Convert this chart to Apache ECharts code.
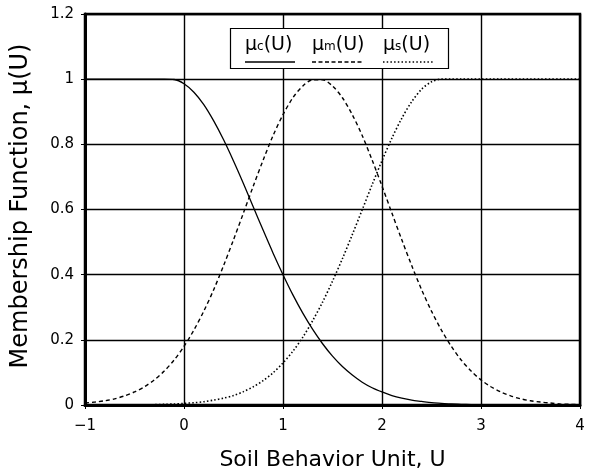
<!DOCTYPE html>
<html>
<head>
<meta charset="utf-8">
<script src="https://cdn.jsdelivr.net/npm/echarts@6/dist/echarts.min.js"></script>
<style>html,body{margin:0;padding:0;background:#fff}#c{width:603px;height:476px}</style>
</head>
<body>
<div id="c"></div>
<script>
const uValues = [-1,-0.9,-0.8,-0.7,-0.6,-0.5,-0.4,-0.3,-0.2,-0.1,0,0.1,0.2,0.3,0.4,0.5,0.6,0.7,0.8,0.9,1,1.1,1.2,1.3,1.4,1.5,1.6,1.7,1.8,1.9,2,2.1,2.2,2.3,2.4,2.5,2.6,2.7,2.8,2.9,3,3.1,3.2,3.3,3.4,3.5,3.6,3.7,3.8,3.9,4];
const muC = [1,1,1,1,1,1,1,1,1,0.999,0.986,0.960,0.922,0.872,0.814,0.749,0.680,0.608,0.536,0.466,0.400,0.338,0.282,0.232,0.188,0.150,0.118,0.092,0.070,0.053,0.040,0.029,0.021,0.015,0.011,0.007,0.005,0.003,0.002,0.001,0,0,0,0,0,0,0,0,0,0,0];
const muM = [0.006,0.009,0.013,0.019,0.028,0.040,0.056,0.077,0.104,0.138,0.180,0.230,0.288,0.354,0.428,0.507,0.589,0.672,0.752,0.827,0.891,0.943,0.979,0.998,0.998,0.979,0.943,0.891,0.827,0.752,0.672,0.589,0.507,0.428,0.354,0.288,0.230,0.180,0.138,0.104,0.077,0.056,0.040,0.028,0.019,0.013,0.009,0.006,0.003,0.002,0.001];
const muS = [0,0,0,0,0,0,0,0.001,0.002,0.003,0.005,0.007,0.010,0.015,0.021,0.029,0.041,0.056,0.075,0.099,0.129,0.165,0.208,0.259,0.316,0.380,0.449,0.523,0.599,0.676,0.750,0.819,0.880,0.931,0.969,0.992,1,1,1,1,1,1,1,1,1,1,1,1,1,1,1];
const xTicks = [-1,0,1,2,3,4];
const yTicks = [0,0.2,0.4,0.6,0.8,1,1.2];
const legendNames = ['c','m','s'];

const chart = echarts.init(document.getElementById('c'), null, {renderer:'canvas'});
const pair = arr => uValues.map((u,i)=>[u,arr[i]]);
const font = '"DejaVu Sans", Verdana, sans-serif';

const legendX = [245, 312, 383];
const legendDash = ['solid', [4,2.5], [1.5,2.2]];
const graphics = [
  {type:'rect', shape:{x:230.5,y:28.5,width:218,height:40}, style:{fill:'#fff',stroke:'#000',lineWidth:1.2}, z:100}
];
legendNames.forEach((s,i)=>{
  graphics.push({type:'text', x:legendX[i], y:45, z:101, style:{
    text:'{a|μ}{b|'+s+'}{a|(U)}', textVerticalAlign:'middle',
    rich:{a:{fontSize:19,fontFamily:font,fill:'#000'}, b:{fontSize:12,fontFamily:font,fill:'#000',padding:[4,0,0,0]}}
  }});
  graphics.push({type:'line', z:101, shape:{x1:legendX[i], y1:62, x2:legendX[i]+50, y2:62},
    style:{stroke:'#000', lineWidth:1.6, lineDash: legendDash[i]==='solid'?null:legendDash[i]}});
});
graphics.push({type:'text', x:21, y:206, rotation:Math.PI/2, z:101, style:{
  text:'Membership Function, μ(U)', fontSize:24, fontFamily:font, fill:'#000', textAlign:'center', textVerticalAlign:'middle'}});

chart.setOption({
  animation:false,
  backgroundColor:'#fff',
  grid:{left:85, right:23, top:14, bottom:71, show:true, borderColor:'#000', borderWidth:2.5},
  xAxis:{type:'value', min:-1, max:4, interval:1,
    name:'Soil Behavior Unit, U', nameLocation:'middle', nameGap:44,
    nameTextStyle:{fontSize:22, fontFamily:font, color:'#000'},
    axisLine:{show:true, onZero:false, lineStyle:{color:'#000', width:3}},
    axisTick:{show:true, length:4, lineStyle:{color:'#000'}},
    axisLabel:{fontSize:15, fontFamily:font, color:'#000', margin:14,
      formatter:v=>String(xTicks.find(t=>t===v)).replace('-','−')},
    splitLine:{show:true, lineStyle:{color:'#000', width:1.4}}
  },
  yAxis:{type:'value', min:0, max:1.2, interval:0.2,
    axisLine:{show:true, onZero:false, lineStyle:{color:'#000', width:3}},
    axisTick:{show:true, length:4, lineStyle:{color:'#000'}},
    axisLabel:{fontSize:15, fontFamily:font, color:'#000', margin:11,
      formatter:v=>{const t=yTicks.reduce((a,b)=>Math.abs(b-v)<Math.abs(a-v)?b:a); return (t===0||t===1)?String(t):t.toFixed(1);}},
    splitLine:{show:true, lineStyle:{color:'#000', width:1.4}}
  },
  series:[
    {name:'μc(U)', type:'line', data:pair(muC), showSymbol:false, smooth:0.3, lineStyle:{color:'#000', width:1.3, type:'solid'}, z:5},
    {name:'μm(U)', type:'line', data:pair(muM), showSymbol:false, smooth:0.3, lineStyle:{color:'#000', width:1.4, type:[4,3]}, z:5},
    {name:'μs(U)', type:'line', data:pair(muS), showSymbol:false, smooth:0.3, lineStyle:{color:'#000', width:1.6, type:[1.5,2.2]}, z:5}
  ],
  graphic: graphics
});
</script>
</body>
</html>
